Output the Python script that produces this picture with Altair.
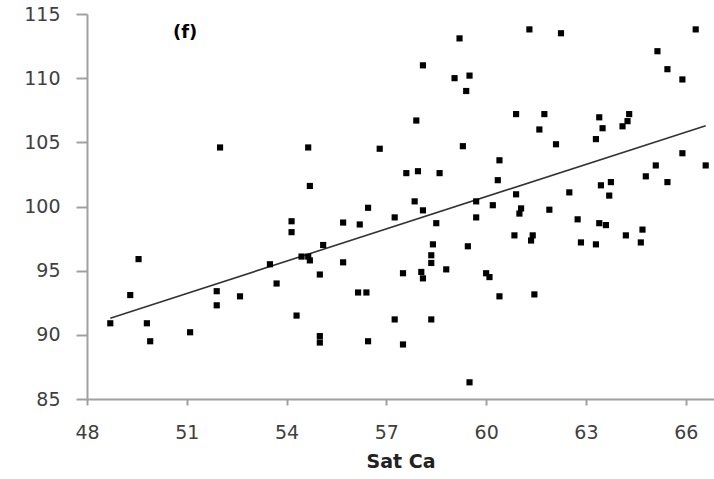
import altair as alt
import pandas as pd

sat_ca = [
    48.7, 49.3, 49.55, 49.8, 49.9, 51.1, 51.9, 51.9, 52.6, 52.0,
    53.5, 53.7, 54.15, 54.15, 54.3, 54.45, 54.65, 54.7, 54.65, 54.7,
    55.1, 55.0, 55.0, 55.0, 55.7, 55.7, 56.15, 56.4, 56.45, 56.2,
    56.45, 56.8, 57.25, 57.25, 57.5, 57.5, 57.6, 57.95, 57.85, 57.9,
    58.1, 58.1, 58.05, 58.1, 58.35, 58.35, 58.35, 58.4, 58.5, 58.6,
    58.8, 59.05, 59.2, 59.3, 59.4, 59.45, 59.5, 59.5, 59.7, 59.7,
    60.0, 60.1, 60.2, 60.35, 60.4, 60.4, 60.85, 60.9, 60.9, 61.05,
    61.0, 61.3, 61.4, 61.35, 61.45, 61.6, 61.75, 61.9, 62.1, 62.25,
    62.5, 62.75, 62.85, 63.3, 63.3, 63.4, 63.4, 63.45, 63.5, 63.6,
    63.7, 63.75, 64.1, 64.2, 64.25, 64.3, 64.65, 64.7, 64.8, 65.1,
    65.15, 65.45, 65.45, 65.9, 65.9, 66.3, 66.6,
]
y_vals = [
    90.9, 93.1, 95.9, 90.9, 89.5, 90.2, 93.4, 92.3, 93.0, 104.6,
    95.5, 94.0, 98.85, 98.0, 91.5, 96.1, 96.1, 95.8, 104.6, 101.6,
    97.0, 94.7, 89.9, 89.4, 98.75, 95.65, 93.3, 93.3, 99.9, 98.6,
    89.5, 104.5, 99.15, 91.2, 94.8, 89.25, 102.6, 102.75, 100.4, 106.7,
    111.0, 99.7, 94.9, 94.4, 91.2, 96.2, 95.6, 97.05, 98.7, 102.6,
    95.1, 110.0, 113.1, 104.7, 109.0, 96.9, 110.2, 86.3, 100.4, 99.15,
    94.8, 94.5, 100.1, 102.05, 103.6, 93.0, 97.75, 107.2, 100.95, 99.85,
    99.45, 113.8, 97.75, 97.35, 93.15, 106.0, 107.2, 99.75, 104.85, 113.5,
    101.1, 99.0, 97.2, 105.25, 97.05, 106.95, 98.7, 101.65, 106.1, 98.55,
    100.85, 101.9, 106.25, 97.75, 106.65, 107.2, 97.2, 98.2, 102.35, 103.2,
    112.1, 110.7, 101.9, 109.9, 104.15, 113.8, 103.2,
]
trend_x = [48.7, 66.6]
trend_y = [91.3, 106.3]
x_ticks = [48, 51, 54, 57, 60, 63, 66]
y_ticks = [85, 90, 95, 100, 105, 110, 115]
panel_label = ["(f)"]
panel_x = [50.95]
panel_y = [113.55]

pts = pd.DataFrame({"x": sat_ca, "y": y_vals})
trend = pd.DataFrame({"x": trend_x, "y": trend_y})
lab = pd.DataFrame({"x": panel_x, "y": panel_y, "t": panel_label})

xscale = alt.Scale(domain=[48, 66.85], nice=False, zero=False)
yscale = alt.Scale(domain=[85, 115], nice=False, zero=False)

common = dict(grid=False, domainColor="#a0a0a0", domainWidth=2,
              tickColor="#a0a0a0", tickWidth=2, labelFont="DejaVu Sans",
              labelFontSize=19, labelColor="#404040")

xaxis = alt.Axis(values=x_ticks, title="Sat Ca", tickSize=6,
                 labelPadding=18, titlePadding=10, titleFontSize=19,
                 titleFont="DejaVu Sans", titleFontWeight="bold",
                 titleColor="#222222", labelFlush=False, **common)
yaxis = alt.Axis(values=y_ticks, title=None, tickSize=11,
                 labelPadding=16, **common)

points = alt.Chart(pts).mark_square(size=38, color="black", opacity=1).encode(
    x=alt.X("x:Q", scale=xscale, axis=xaxis),
    y=alt.Y("y:Q", scale=yscale, axis=yaxis),
)
line = alt.Chart(trend).mark_line(color="#333333", strokeWidth=1.6).encode(
    x=alt.X("x:Q", scale=xscale),
    y=alt.Y("y:Q", scale=yscale),
)
text = alt.Chart(lab).mark_text(fontSize=18, fontWeight="bold", font="DejaVu Sans",
                                color="black").encode(
    x=alt.X("x:Q", scale=xscale),
    y=alt.Y("y:Q", scale=yscale),
    text="t:N",
)

chart = alt.layer(line, points, text).properties(
    width=627, height=385,
    background="white",
    autosize=alt.AutoSizeParams(type="none"),
    padding={"left": 87, "top": 14, "right": 0, "bottom": 80},
).configure_view(stroke=None)

chart.save("out.html", embed_options={"renderer": "svg", "actions": False})
